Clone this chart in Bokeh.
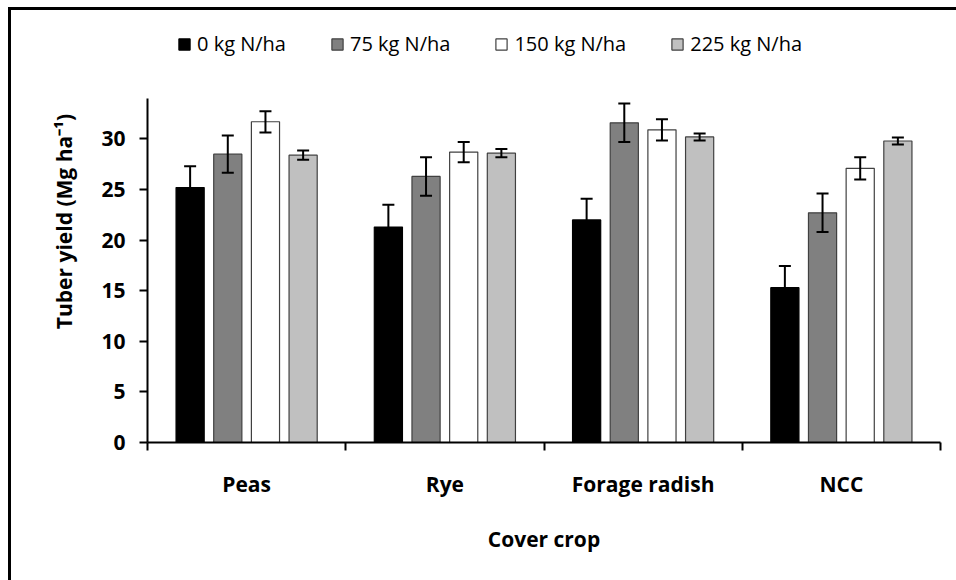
from bokeh.plotting import figure
from bokeh.models import (ColumnDataSource, Whisker, TeeHead, Legend, LegendItem,
                          FixedTicker, Range1d)
from bokeh.embed import file_html
from bokeh.resources import INLINE

# ---- data ----
crops = ["Peas", "Rye", "Forage radish", "NCC"]
series = ["0 kg N/ha", "75 kg N/ha", "150 kg N/ha", "225 kg N/ha"]
yield_0 = [25.2, 21.3, 22.0, 15.3]
yield_75 = [28.5, 26.3, 31.6, 22.7]
yield_150 = [31.7, 28.7, 30.9, 27.1]
yield_225 = [28.4, 28.6, 30.2, 29.8]
se_0 = [2.1, 2.2, 2.1, 2.15]
se_75 = [1.85, 1.9, 1.9, 1.9]
se_150 = [1.05, 1.0, 1.05, 1.1]
se_225 = [0.45, 0.4, 0.35, 0.35]
y_ticks = [0, 5, 10, 15, 20, 25, 30]
y_axis_max = 34

values = [yield_0, yield_75, yield_150, yield_225]
errors = [se_0, se_75, se_150, se_225]

fills = ["#000000", "#808080", "#ffffff", "#c0c0c0"]
outlines = ["#000000", "#404040", "#404040", "#404040"]
offsets = [-0.285, -0.095, 0.095, 0.285]
bar_w = 0.142

FONT = "Open Sans"

# layout: frame spans from canvas top to the x axis; the y axis line is
# bounded so that it ends at y_axis_max like the reference
H, W = 580, 956
bottom_border = 138
axis_top_px = 98
frame_h = H - bottom_border
y_end = y_axis_max * frame_h / (frame_h - axis_top_px)

p = figure(width=W, height=H, output_backend="svg", toolbar_location=None,
           x_range=Range1d(0, len(crops)), y_range=Range1d(0, y_end),
           min_border_left=147, min_border_right=16, min_border_top=0,
           min_border_bottom=bottom_border)
p.xgrid.visible = False
p.ygrid.visible = False
p.outline_line_color = None
p.background_fill_alpha = 0
p.border_fill_alpha = 0
# outer chart border (open on the right and bottom, as cropped in the reference)
p.styles = {
    "background-color": "white",
    "background-image": "linear-gradient(#000, #000), linear-gradient(#000, #000)",
    "background-position": "8px 7px, 8px 7px",
    "background-size": "3px 100%, 100% 3px",
    "background-repeat": "no-repeat, no-repeat",
}

items = []
for k in range(len(series)):
    xs = [i + 0.5 + offsets[k] for i in range(len(crops))]
    v = values[k]
    e = errors[k]
    src = ColumnDataSource(dict(x=xs, top=v,
                                upper=[a + b for a, b in zip(v, e)],
                                lower=[a - b for a, b in zip(v, e)]))
    r = p.vbar(x="x", top="top", width=bar_w, bottom=0, source=src,
               fill_color=fills[k], line_color=outlines[k], line_width=1.2)
    w = Whisker(source=src, base="x", upper="upper", lower="lower",
                line_width=2, line_color="black", level="annotation",
                upper_head=TeeHead(size=12, line_width=2, line_color="black"),
                lower_head=TeeHead(size=12, line_width=2, line_color="black"))
    p.add_layout(w)
    items.append(LegendItem(label=series[k], renderers=[r]))

legend = Legend(items=items, orientation="horizontal", location=(30, 385),
                glyph_width=14, glyph_height=14, label_standoff=6, spacing=44,
                padding=0, margin=0, border_line_alpha=0,
                background_fill_alpha=0,
                label_text_font=FONT, label_text_font_size="20px",
                label_text_color="black")
p.add_layout(legend, "center")

# x axis: ticks at category boundaries, labels at centres
xa = p.xaxis[0]
xa.ticker = FixedTicker(ticks=[i + 0.5 for i in range(len(crops))],
                        minor_ticks=list(range(len(crops) + 1)))
xa.major_label_overrides = {i + 0.5: c for i, c in enumerate(crops)}
xa.major_tick_line_color = None
xa.minor_tick_in = 0
xa.minor_tick_out = 8
xa.minor_tick_line_width = 2
xa.minor_tick_line_color = "black"
xa.axis_line_width = 2
xa.axis_line_color = "black"
xa.major_label_standoff = 19
xa.major_label_text_font = FONT
xa.major_label_text_font_size = "21px"
xa.major_label_text_font_style = "bold"
xa.major_label_text_color = "black"
xa.axis_label = "Cover crop"
xa.axis_label_standoff = 24
xa.axis_label_text_font = FONT
xa.axis_label_text_font_size = "21px"
xa.axis_label_text_font_style = "bold"
xa.axis_label_text_color = "black"

ya = p.yaxis[0]
ya.ticker = FixedTicker(ticks=y_ticks)
ya.bounds = (0, y_axis_max)
ya.major_tick_in = 0
ya.major_tick_out = 8
ya.major_tick_line_width = 2
ya.major_tick_line_color = "black"
ya.minor_tick_line_color = None
ya.axis_line_width = 2
ya.axis_line_color = "black"
ya.major_label_standoff = 14
ya.major_label_text_font = FONT
ya.major_label_text_font_size = "21px"
ya.major_label_text_font_style = "bold"
ya.major_label_text_color = "black"
ya.axis_label = "Tuber yield (Mg ha\u207b\u00b9)"
ya.axis_label_standoff = 20
ya.axis_label_text_font = FONT
ya.axis_label_text_font_size = "21px"
ya.axis_label_text_font_style = "bold"
ya.axis_label_text_color = "black"

open("out.html", "w").write(file_html(p, INLINE))
